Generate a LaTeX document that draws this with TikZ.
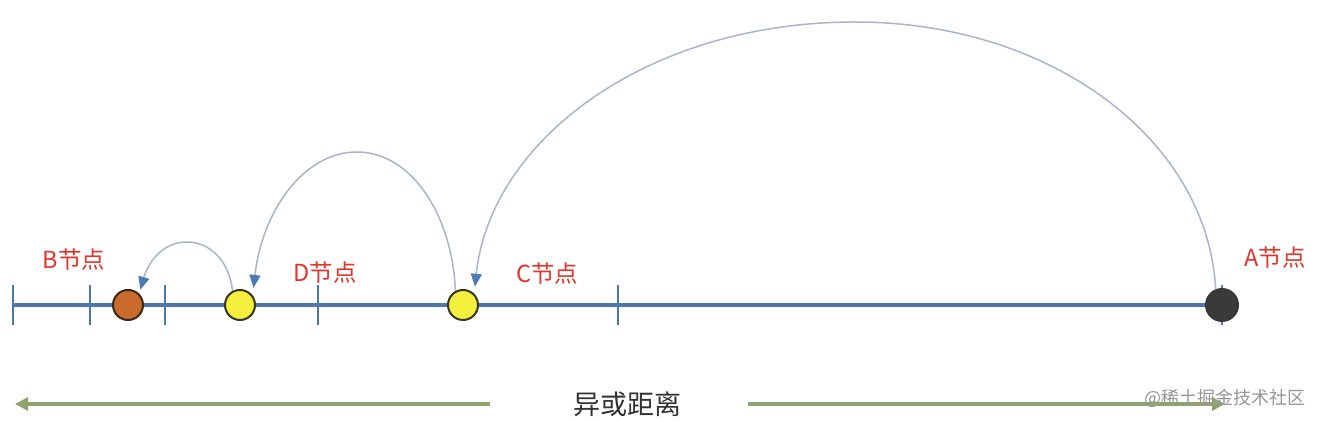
\documentclass[tikz,border=0pt]{standalone}
\usepackage{fontspec}
\newfontfamily\cjk{Noto Sans CJK SC}
\usetikzlibrary{arrows.meta,calc}
\definecolor{axisblue}{HTML}{4D76AD}
\definecolor{arcgray}{HTML}{A9B5C9}
\definecolor{tipblue}{HTML}{4F7BB4}
\definecolor{labred}{HTML}{E2352B}
\definecolor{grn}{HTML}{8FA36C}
\definecolor{brownfill}{HTML}{C96A2C}
\definecolor{yelfill}{HTML}{F4EE3C}
\tikzset{
  tickmark/.style={axisblue, line width=2.6pt},
  dot/.style={circle, minimum size=30pt, inner sep=0pt, line width=2pt},
  lab/.style={font=\cjk\fontsize{23.5}{23.5}\selectfont, text=labred, inner sep=0pt},
  hop/.style={arcgray, line width=1.5pt, -{Triangle[length=13pt,width=11pt,fill=tipblue,color=tipblue]}},
  dist/.style={grn, line width=3.8pt, -{Triangle[length=13pt,width=13pt]}}
}
\begin{document}
\begin{tikzpicture}[x=1pt,y=1pt]
\useasboundingbox (0,0) rectangle (1328,422);
\fill[white] (0,0) rectangle (1328,422);
% axis
\coordinate (axL) at (13,117);
\coordinate (axR) at (1222,117);
\draw[axisblue, line width=4.5pt] (axL) -- (axR);
\foreach \x in {13,90,165,318,618,1222}
  \draw[tickmark] (\x,97) -- (\x,137);
% nodes on axis
\node[dot, draw={rgb,255:red,60;green,40;blue,25}, fill=brownfill] (B) at (128,117) {};
\node[dot, draw={rgb,255:red,55;green,55;blue,30}, fill=yelfill] (D) at (240,117) {};
\node[dot, draw={rgb,255:red,55;green,55;blue,30}, fill=yelfill] (C) at (463,117) {};
\node[dot, minimum size=32pt, draw={rgb,255:red,55;green,55;blue,55}, fill={rgb,255:red,58;green,58;blue,58}] (A) at (1222,117) {};
% labels
\node[lab] (Blab) at (74,162) {B节点};
\node[lab] (Dlab) at (325,149) {D节点};
\node[lab] (Clab) at (547,148) {C节点};
\node[lab] (Alab) at (1275,164) {A节点};
% hops
\draw[hop] (D.118) .. controls (230,158) and (212,180) .. (187,180)
  .. controls (162,180) and (148,159) .. ($(B.50)+(2,3)$);
\draw[hop] (C.118) .. controls (452,208) and (411,270) .. (357,270)
  .. controls (303,270) and (262,210) .. ($(D.49)+(3,5)$);
\draw[hop] (A.112) .. controls (1208,281) and (1053,400) .. (855,400)
  .. controls (646,400) and (490,281) .. ($(C.56)+(3,5)$);
% distance arrow
\node[font=\cjk\fontsize{27}{27}\selectfont, text={rgb,255:red,50;green,50;blue,50}, inner sep=0pt] (xd) at (627,18) {异或距离};
\coordinate (lend) at (15,18);
\coordinate (rend) at (1225,18);
\draw[dist] (490,18) -- (lend);
\draw[dist] (748,18) -- (rend);
% watermark
\node[font=\cjk\fontsize{18}{18}\selectfont, text={rgb,255:red,150;green,150;blue,150}, inner sep=0pt] (wm) at (1225,24) {@稀土掘金技术社区};
\end{tikzpicture}
\end{document}
